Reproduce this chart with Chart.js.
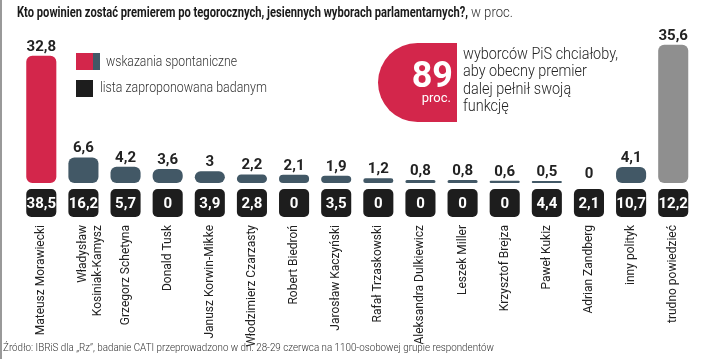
<!DOCTYPE html>
<html><head><meta charset="utf-8">
<script src="https://cdn.jsdelivr.net/npm/chart.js@4/dist/chart.umd.min.js"></script>
<style>
html,body{margin:0;padding:0;background:#fff;overflow:hidden;width:720px;height:359px}
#wrap{position:relative;width:730px;height:359px}
canvas{display:block}
</style>
</head><body>
<div id="wrap"><canvas id="c" width="730" height="359"></canvas></div>
<script>
// ---- data ----
const categories = [
  ["Mateusz Morawiecki"],
  ["Władysław", "Kosiniak-Kamysz"],
  ["Grzegorz Schetyna"],
  ["Donald Tusk"],
  ["Janusz Korwin-Mikke"],
  ["Włodzimierz Czarzasty"],
  ["Robert Biedroń"],
  ["Jarosław Kaczyński"],
  ["Rafał Trzaskowski"],
  ["Aleksandra Dulkiewicz"],
  ["Leszek Miller"],
  ["Krzysztof Brejza"],
  ["Paweł Kukiz"],
  ["Adrian Zandberg"],
  ["inny polityk"],
  ["trudno powiedzieć"]
];
const spontaneous = [32.8, 6.6, 4.2, 3.6, 3, 2.2, 2.1, 1.9, 1.2, 0.8, 0.8, 0.6, 0.5, 0, 4.1, 35.6];
const proposedList = [38.5, 16.2, 5.7, 0, 3.9, 2.8, 0, 3.5, 0, 0, 0, 0, 4.4, 2.1, 10.7, 12.2];
const titleBold = "Kto powinien zostać premierem po tegorocznych, jesiennych wyborach parlamentarnych?,";
const titleUnit = "w proc.";
const legendLabels = ["wskazania spontaniczne", "lista zaproponowana badanym"];
const calloutValue = "89";
const calloutUnit = "proc.";
const calloutLines = ["wyborców PiS chciałoby,", "aby obecny premier", "dalej pełnił swoją", "funkcję"];
const sourceText = "Źródło: IBRiS dla „Rz”, badanie CATI przeprowadzono w dn. 28-29 czerwca na 1100-osobowej grupie respondentów";

// ---- styles ----
const RED = "#d3264b", SLATE = "#425866", GREY = "#8f8f8f", BLACK = "#1d1d1d", TXT = "#222";
const FONT = "Roboto, 'Liberation Sans', sans-serif";
const fmt = v => String(v).replace(".", ",");

function fitText(ctx, text, x, y, font, targetW, align) {
  ctx.font = font;
  const w = ctx.measureText(text).width;
  const s = targetW / w;
  ctx.save();
  ctx.translate(x, y);
  ctx.scale(s, 1);
  ctx.textAlign = align || "left";
  ctx.fillText(text, 0, 0);
  ctx.restore();
  return s;
}

const decor = {
  id: "decor",
  afterDatasetsDraw(chart) {
    const ctx = chart.ctx;
    const meta = chart.getDatasetMeta(0);
    // value labels over bars
    ctx.save();
    ctx.fillStyle = TXT;
    ctx.font = "bold 15px " + FONT;
    ctx.textAlign = "center";
    ctx.textBaseline = "alphabetic";
    meta.data.forEach((bar, i) => {
      ctx.fillText(fmt(spontaneous[i]), bar.x, bar.y - 5);
    });
    // black list boxes
    const yScale = chart.scales.y;
    const boxTop = yScale.getPixelForValue(0) + 6;
    meta.data.forEach((bar, i) => {
      const w = bar.width;
      ctx.fillStyle = BLACK;
      ctx.beginPath();
      ctx.roundRect(bar.x - w / 2, boxTop, w, 28, 5);
      ctx.fill();
      ctx.fillStyle = "#fff";
      ctx.textBaseline = "middle";
      ctx.fillText(fmt(proposedList[i]), bar.x, boxTop + 15);
    });
    ctx.restore();
  },
  afterDraw(chart) {
    const ctx = chart.ctx;
    ctx.save();
    // left border
    ctx.fillStyle = "#999";
    ctx.fillRect(0, 0, 2, 359);
    // title
    ctx.fillStyle = "#1a1a1a";
    ctx.textBaseline = "alphabetic";
    fitText(ctx, titleBold, 17, 17, "bold 15px " + FONT, 451);
    ctx.fillStyle = "#333";
    fitText(ctx, titleUnit, 471, 17, "300 15px " + FONT, 42);
    // legend
    ctx.fillStyle = RED; ctx.fillRect(76, 53, 17, 17);
    ctx.fillStyle = SLATE; ctx.fillRect(93, 53, 7, 17);
    ctx.fillStyle = BLACK; ctx.fillRect(76, 80, 17, 17);
    ctx.fillStyle = "#333";
    ctx.textBaseline = "middle";
    fitText(ctx, legendLabels[0], 106, 62, "300 14px " + FONT, 131);
    fitText(ctx, legendLabels[1], 100, 88, "300 14px " + FONT, 167);
    // callout
    ctx.fillStyle = RED;
    ctx.beginPath();
    ctx.roundRect(378, 43, 79, 79, [40, 0, 0, 40]);
    ctx.fill();
    ctx.fillStyle = "#fff";
    ctx.textBaseline = "alphabetic";
    ctx.font = "bold 36px " + FONT;
    ctx.textAlign = "right";
    ctx.fillText(calloutValue, 453, 87);
    ctx.font = "13px " + FONT;
    ctx.fillText(calloutUnit, 451, 102);
    ctx.textAlign = "left";
    ctx.fillStyle = TXT;
    ctx.textBaseline = "middle";
    ctx.font = "300 16px " + FONT;
    const s = 155 / ctx.measureText(calloutLines[0]).width;
    calloutLines.forEach((ln, i) => {
      ctx.save();
      ctx.translate(463, 55 + i * 17.3);
      ctx.scale(s, 1);
      ctx.fillText(ln, 0, 0);
      ctx.restore();
    });
    // source
    ctx.fillStyle = "#333";
    fitText(ctx, sourceText, 3, 348, "300 11px " + FONT, 491);
    ctx.restore();
  }
};

new Chart(document.getElementById("c"), {
  type: "bar",
  data: {
    labels: categories,
    datasets: [{
      label: legendLabels[0],
      data: spontaneous,
      backgroundColor: c => c.dataIndex === 0 ? RED : (c.dataIndex === categories.length - 1 ? GREY : SLATE),
      borderRadius: 6,
      borderSkipped: false,
      categoryPercentage: 1,
      barPercentage: 0.714
    }]
  },
  options: {
    responsive: false,
    animation: false,
    devicePixelRatio: 1,
    layout: { padding: { left: 9.6, right: 3.6, top: 20, bottom: 0 } },
    plugins: { legend: { display: false }, title: { display: false }, tooltip: { enabled: false } },
    scales: {
      x: {
        grid: { display: false, drawTicks: false },
        border: { display: false },
        ticks: {
          autoSkip: false, minRotation: 90, maxRotation: 90, padding: 42,
          color: TXT, font: { family: FONT, size: 12, lineHeight: 1.25 }
        },
        afterFit: s => { s.height = 176; }
      },
      y: {
        display: false, min: 0, max: 42
      }
    }
  },
  plugins: [decor]
});
</script>
</body></html>
